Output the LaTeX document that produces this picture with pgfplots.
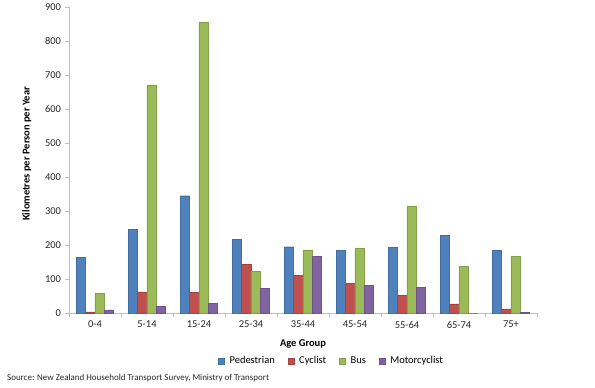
\documentclass[border=0pt]{standalone}
\usepackage{pgfplots}
\pgfplotsset{compat=1.18}
\usepackage{fontspec}
\setmainfont{Carlito}
\definecolor{cPed}{HTML}{4F81BD}
\definecolor{cCyc}{HTML}{C0504D}
\definecolor{cBus}{HTML}{9BBB59}
\definecolor{cMot}{HTML}{8064A2}
\definecolor{axgray}{HTML}{BFBFBF}
\begin{document}
\begin{tikzpicture}
\useasboundingbox (-69bp,-75bp) rectangle (526bp,313bp);
\begin{axis}[
  at={(0,0)}, anchor=south west,
  scale only axis, width=468bp, height=306bp,
  ybar=0pt, bar width=9.3bp,
  xmin=-0.5, xmax=8.5, ymin=0, ymax=900,
  axis x line=bottom, axis y line=left,
  axis line style={-, draw=axgray},
  xtick={0,...,8},
  xticklabels={0-4,5-14,15-24,25-34,35-44,45-54,55-64,65-74,75+},
  major x tick style={draw=none},
  minor xtick={-0.5,0.5,...,8.5},
  minor x tick style={draw=axgray},
  minor tick length=3.5bp,
  ytick={0,100,...,900},
  major tick length=3.5bp,
  y tick style={draw=axgray},
  tick align=outside,
  /pgf/number format/assume math mode=true,
  ticklabel style={font=\fontsize{10.5}{12}\selectfont, text=black!85},
  yticklabel style={xshift=-1bp},
  xticklabel style={yshift=-1bp},
  xlabel={\textbf{Age Group}},
  ylabel={\textbf{Kilometres per Person per Year}},
  label style={font=\fontsize{10.5}{12}\selectfont},
  xlabel style={at={(axis description cs:0.5,-0.101)}, anchor=center},
  ylabel style={at={(axis description cs:-0.09,0.52)}, anchor=center},
  legend columns=4,
  legend style={draw=none, at={(axis description cs:0.561,-0.157)}, anchor=center,
    font=\fontsize{10.5}{12}\selectfont, column sep=0pt, inner sep=0pt,
    /tikz/every odd column/.append style={column sep=3.3bp},
    /tikz/every even column/.append style={column sep=11bp}},
  legend image code/.code={\fill[#1] (0bp,-2.9bp) rectangle (5.8bp,2.9bp);},
]
\addplot[fill=cPed, draw=cPed!85!black] coordinates {(0,163) (1,246) (2,345) (3,216) (4,195) (5,185) (6,193) (7,229) (8,185)};
\addplot[fill=cCyc, draw=cCyc!85!black] coordinates {(0,3) (1,62) (2,60) (3,144) (4,111) (5,87) (6,52) (7,27) (8,12)};
\addplot[fill=cBus, draw=cBus!85!black] coordinates {(0,58) (1,671) (2,855) (3,123) (4,186) (5,191) (6,315) (7,137) (8,166)};
\addplot[fill=cMot, draw=cMot!85!black] coordinates {(0,9) (1,20) (2,28) (3,72) (4,167) (5,81) (6,75) (7,0) (8,2)};
\legend{Pedestrian,Cyclist,Bus,Motorcyclist}
\end{axis}
\node[anchor=west, font=\fontsize{9}{10}\selectfont, inner sep=0pt, text=black!85] at (-62bp,-65bp) {Source: New Zealand Household Transport Survey, Ministry of Transport};
\end{tikzpicture}
\end{document}
